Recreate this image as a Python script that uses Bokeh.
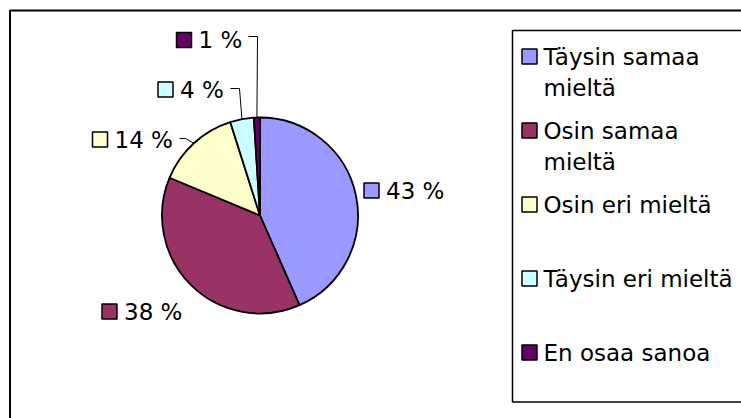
import math
from bokeh.plotting import figure
from bokeh.models import Range1d, ColumnDataSource
from bokeh.core.properties import value
from bokeh.embed import file_html
from bokeh.resources import INLINE

# ---- data ----
CATEGORIES = ["Täysin samaa mieltä", "Osin samaa mieltä", "Osin eri mieltä",
              "Täysin eri mieltä", "En osaa sanoa"]
SHARES = [43.4, 37.9, 13.8, 3.9, 1.0]
COLORS = ["#9999FF", "#993366", "#FFFFCC", "#CCFFFF", "#660066"]
LEGEND_LINES = [["Täysin samaa", "mieltä"], ["Osin samaa", "mieltä"],
                ["Osin eri mieltä"], ["Täysin eri mieltä"], ["En osaa sanoa"]]

# ---- layout (pixels) ----
W, H = 741, 418
FONT = value("DejaVu Sans")
FS = "23px"
SQ = 15


def px(x):
    return x


def py(y):
    return H - y


CX, CY, R = px(259.5), py(215), 98
# label square centre offsets from the pie centre (x right, y down)
LABEL_OFFSETS = [(111.5, -25), (-150.5, 96), (-160, -76), (-94.5, -126), (-76, -175.5)]
# leader start offsets from label square centre (x, y down) and elbow length
LEADERS = [None, None, (79.5, -1, 6), (65, -1, 9), (64.5, -3.5, 9)]

p = figure(width=W, height=H, x_range=Range1d(0, W), y_range=Range1d(0, H),
           output_backend="svg", toolbar_location=None,
           x_axis_type=None, y_axis_type=None, min_border=0,
           outline_line_color=None, background_fill_color="white",
           border_fill_color="white")

# outer frame
p.quad(left=[px(9.5)], right=[W + 50], top=[py(10)], bottom=[-50],
       fill_color=None, line_color="black", line_width=2)

# pie
total = sum(SHARES)
starts, ends, cum = [], [], 0.0
for v in SHARES:
    starts.append(cum / total)
    cum += v
    ends.append(cum / total)
src = ColumnDataSource(dict(
    start=[math.pi / 2 - 2 * math.pi * s for s in starts],
    end=[math.pi / 2 - 2 * math.pi * e for e in ends],
    color=COLORS))
p.wedge(x=CX, y=CY, radius=R, start_angle="start", end_angle="end",
        direction="clock", fill_color="color", line_color="black",
        line_width=1.8, source=src)

# data labels
sq_x, sq_y, sq_c, tx, ty, tt = [], [], [], [], [], []
lx, ly = [], []
for i, v in enumerate(SHARES):
    dx, dy = LABEL_OFFSETS[i]
    sx, sy = CX + dx, CY - dy
    sq_x.append(sx)
    sq_y.append(sy)
    sq_c.append(COLORS[i])
    tx.append(sx + 14.5)
    ty.append(sy)
    tt.append(f"{round(v)} %")
    if LEADERS[i] is not None:
        ox, oy, el = LEADERS[i]
        mid = 2 * math.pi * (starts[i] + ends[i]) / 2
        ex, ey = CX + R * math.sin(mid), CY + R * math.cos(mid)
        x0, y0 = sx + ox, sy - oy
        lx.append([x0, x0 + el, ex])
        ly.append([y0, y0, ey])

p.multi_line(xs=lx, ys=ly, line_color="black", line_width=1)
p.rect(x=sq_x, y=sq_y, width=SQ, height=SQ, fill_color=sq_c,
       line_color="black", line_width=1.5)
p.text(x=tx, y=ty, text=tt, text_font=FONT, text_font_size=FS,
       text_baseline="middle", text_align="left", text_color="black")

# legend
p.quad(left=[px(512)], right=[W + 50], top=[py(30)], bottom=[py(401.5)],
       fill_color="white", line_color="black", line_width=1.5)
lg_x, lg_y, lg_t = [], [], []
for k, lines in enumerate(LEGEND_LINES):
    cy = py(56 + 74 * k)
    for j, line in enumerate(lines):
        lg_x.append(px(543))
        lg_y.append(cy - 31 * j)
        lg_t.append(line)
p.rect(x=[px(529)] * len(CATEGORIES), y=[py(56 + 74 * k) for k in range(len(CATEGORIES))],
       width=SQ, height=SQ, fill_color=COLORS, line_color="black", line_width=1.5)
p.text(x=lg_x, y=lg_y, text=lg_t, text_font=FONT, text_font_size=FS,
       text_baseline="middle", text_align="left", text_color="black")

open("out.html", "w").write(file_html(p, INLINE))
